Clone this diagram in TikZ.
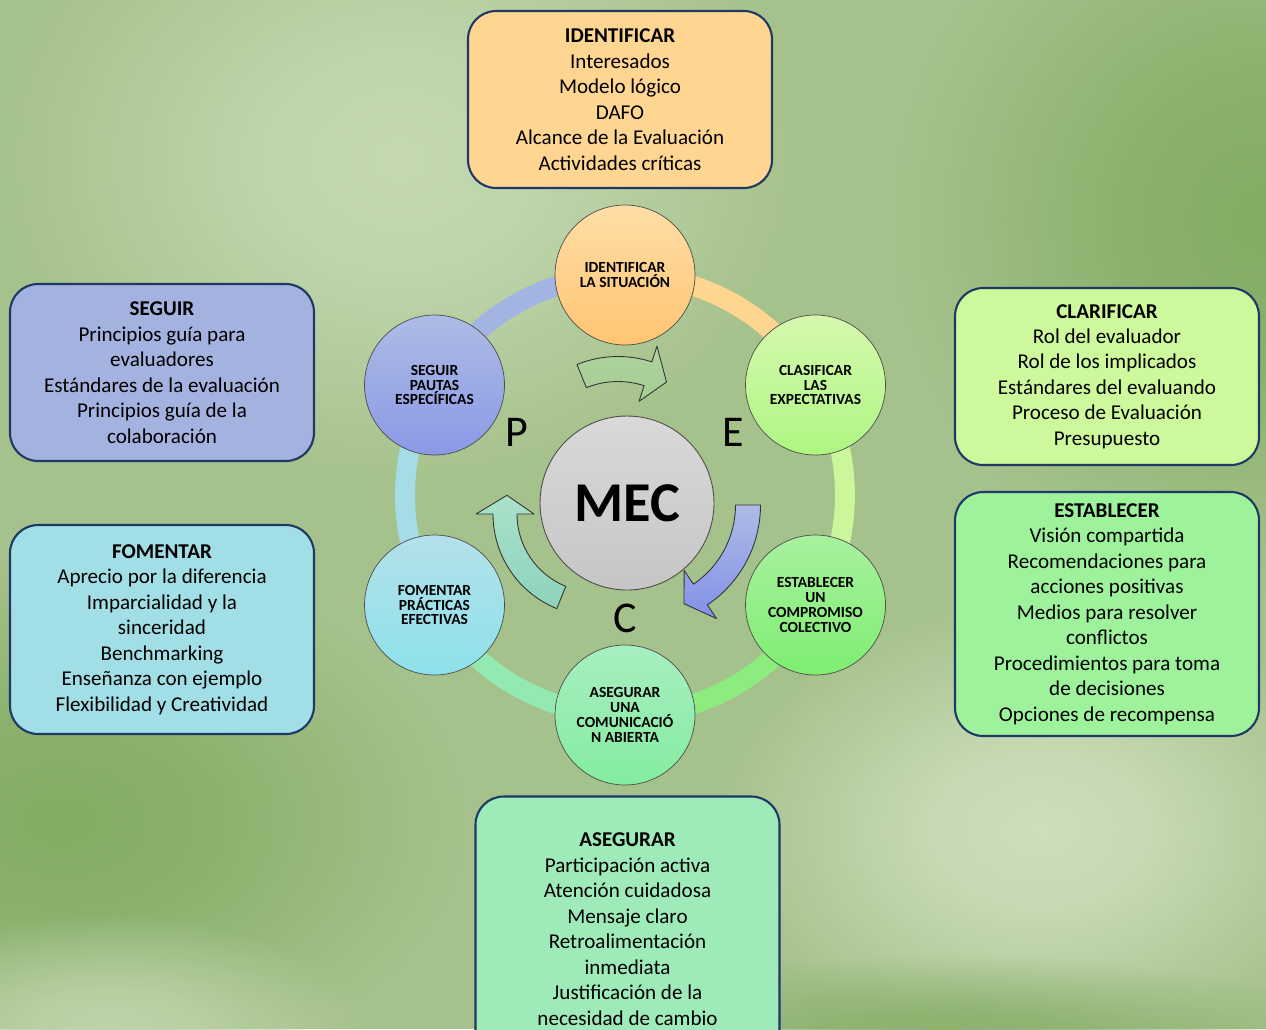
\documentclass[tikz,border=0pt]{standalone}
\usepackage{fontspec}
\setmainfont{Carlito}
\usetikzlibrary{calc,fadings,backgrounds}

\definecolor{bgbase}{HTML}{A6C28C}
\definecolor{bglight}{HTML}{C4D9B2}
\definecolor{bgdark}{HTML}{84AC64}
\definecolor{navyline}{HTML}{203864}
\definecolor{bxorange}{HTML}{FFD592}
\definecolor{bxblue}{HTML}{A4B2E0}
\definecolor{bxlime}{HTML}{CDF89B}
\definecolor{bxgreen}{HTML}{9EF29C}
\definecolor{bxcyan}{HTML}{A2DEE6}
\definecolor{bxmint}{HTML}{9EEAB8}
\definecolor{ringorange}{HTML}{FFD690}
\definecolor{ringlime}{HTML}{CCF69A}
\definecolor{ringgreen}{HTML}{8CEC7E}
\definecolor{ringmint}{HTML}{92EAB2}
\definecolor{ringcyan}{HTML}{A6DCE6}
\definecolor{ringblue}{HTML}{A4B4E2}
\definecolor{arrowgreen}{HTML}{A6CE94}
\definecolor{arrowteal}{HTML}{9CDCC2}

\newcommand{\boxfont}{\fontsize{12}{14.5}\selectfont}
\newcommand{\stagefont}{\fontsize{8.8}{8.5}\selectfont\bfseries}

\pgfdeclareradialshading{blobshade}{\pgfpoint{0bp}{0bp}}{color(0bp)=(white); color(6bp)=(white!80!black); color(17bp)=(black); color(50bp)=(black)}
\begin{tikzfadingfrompicture}[name=softblob]
  \shade[shading=blobshade] (0,0) circle (1cm);
\end{tikzfadingfrompicture}

% #1 style, #2 centre, #3 radius, #4 tail, #5 head base, #6 tip, #7 half width, #8 head half width
\newcommand{\bendarrow}[8]{%
  \pgfmathsetmacro{\rOut}{#3+#7}%
  \pgfmathsetmacro{\rIn}{#3-#7}%
  \pgfmathsetmacro{\rHo}{#3+#8}%
  \pgfmathsetmacro{\rHi}{#3-#8}%
  \path[#1] ($(#2)+(#4:\rOut)$) arc[start angle=#4, end angle=#5, radius=\rOut]
    -- ($(#2)+(#5:\rHo)$) -- ($(#2)+(#6:#3)$) -- ($(#2)+(#5:\rHi)$)
    -- ($(#2)+(#5:\rIn)$) arc[start angle=#5, end angle=#4, radius=\rIn] -- cycle;
}

\begin{document}
\begin{tikzpicture}[x=0.02cm,y=-0.02cm,
    box/.style={draw=navyline, line width=1.2pt, rounded corners=0.56cm, minimum width=6.08cm, inner sep=0pt, align=center, font=\boxfont},
    stage/.style={circle, draw=gray!60!black, line width=0.4pt, minimum size=2.8cm, inner sep=0pt, align=center, font=\stagefont},
    ring/.style={line width=11.3pt},
    pec/.style={font=\fontsize{25}{25}\selectfont},
    bentarrow/.style={draw=gray!40!black, line width=0.5pt, line join=round},
    blob/.style={path fading=softblob}]

\useasboundingbox (0,0) rectangle (1266,1029);

% boxes
\node[box, fill=bxorange, minimum height=3.54cm] (bIdent) at (620,99.5)
  {\textbf{IDENTIFICAR}\\Interesados\\Modelo lógico\\DAFO\\Alcance de la Evaluación\\Actividades críticas};
\node[box, fill=bxblue, minimum height=3.54cm] (bSeguir) at (162,372.5)
  {\textbf{SEGUIR}\\Principios guía para\\evaluadores\\Estándares de la evaluación\\Principios guía de la\\colaboración};
\node[box, fill=bxlime, minimum height=3.54cm] (bClar) at (1107,376.5)
  {\textbf{CLARIFICAR}\\Rol del evaluador\\Rol de los implicados\\Estándares del evaluando\\Proceso de Evaluación\\Presupuesto};
\node[box, fill=bxgreen, minimum height=4.88cm] (bEstab) at (1107,614)
  {\textbf{ESTABLECER}\\Visión compartida\\Recomendaciones para\\acciones positivas\\Medios para resolver\\conflictos\\Procedimientos para toma\\de decisiones\\Opciones de recompensa};
\node[box, fill=bxcyan, minimum height=4.18cm] (bFoment) at (162,629.5)
  {\textbf{FOMENTAR}\\Aprecio por la diferencia\\Imparcialidad y la\\sinceridad\\Benchmarking\\Enseñanza con ejemplo\\Flexibilidad y Creatividad};
\node[box, fill=bxmint, minimum height=5.3cm] (bAseg) at (627.5,929)
  {\textbf{ASEGURAR}\\Participación activa\\Atención cuidadosa\\Mensaje claro\\Retroalimentación\\inmediata\\Justificación de la\\necesidad de cambio};

% stages on the ring
\node[stage, top color=ringorange!80!white, bottom color=ringorange!80!orange] (cIdent) at (625,275) {IDENTIFICAR\\LA SITUACIÓN};
\node[stage, top color=ringlime!80!white, bottom color=ringlime!85!green] (cClas) at (815.5,385) {CLASIFICAR\\LAS\\EXPECTATIVAS};
\node[stage, top color=ringgreen!75!white, bottom color=ringgreen!90!green] (cEstab) at (815.5,605) {ESTABLECER\\UN\\COMPROMISO\\COLECTIVO};
\node[stage, top color=ringmint!80!white, bottom color=ringmint!90!green] (cAseg) at (625,715) {ASEGURAR\\UNA\\COMUNICACIÓ\\N ABIERTA};
\node[stage, top color=ringcyan!85!white, bottom color=ringcyan!85!cyan] (cFoment) at (434.5,605) {FOMENTAR\\PRÁCTICAS\\EFECTIVAS};
\node[stage, top color=ringblue!90!white, bottom color=ringblue!85!blue] (cSeguir) at (434.5,385) {SEGUIR\\PAUTAS\\ESPECÍFICAS};

\node[circle, draw=gray!60!black, line width=0.5pt, minimum size=3.48cm, top color=gray!30, bottom color=gray!45,
  font=\fontsize{32}{32}\selectfont\bfseries] (mec) at (627,503) {MEC};

\node[pec] (lP) at (517,432) {P};
\node[pec] (lE) at (733,432) {E};
\node[pec] (lC) at (625,618) {C};

% curved arrows round MEC
\coordinate (aTop) at (618,466);
\coordinate (aRight) at (640,505);
\coordinate (aLeft) at (595,514);
\bendarrow{bentarrow, top color=arrowgreen!90!white, bottom color=arrowgreen}{aTop}{97}{-112}{-72}{-60}{12.5}{29}
\bendarrow{bentarrow, top color=ringblue!90!white, bottom color=ringblue!80!blue}{aRight}{108}{0}{56}{66}{12.5}{29}
\bendarrow{bentarrow, top color=arrowteal!85!white, bottom color=arrowteal!90!teal}{aLeft}{90}{-248}{-180}{-168}{12}{29}

\begin{scope}[on background layer]
  \fill[bgbase] (0,0) rectangle (1266,1029);
  \fill[bglight, blob] (400,160) ellipse [x radius=520, y radius=420];
  \fill[bgdark, blob] (1266,220) ellipse [x radius=480, y radius=480];
  \fill[bgdark, blob] (60,820) ellipse [x radius=520, y radius=340];
  \fill[bglight!80!bgbase, blob] (110,1029) ellipse [x radius=330, y radius=150];
  \fill[bglight!85!white, blob] (1040,830) ellipse [x radius=420, y radius=300];
  \fill[bgdark!80!bgbase, blob] (950,1040) ellipse [x radius=520, y radius=110];
  \draw[ring, draw=ringorange] (cIdent.center) arc[start angle=-90, end angle=-30, radius=220];
  \draw[ring, draw=ringlime] (cClas.center) arc[start angle=-30, end angle=30, radius=220];
  \draw[ring, draw=ringgreen] (cEstab.center) arc[start angle=30, end angle=90, radius=220];
  \draw[ring, draw=ringmint] (cAseg.center) arc[start angle=90, end angle=150, radius=220];
  \draw[ring, draw=ringcyan] (cFoment.center) arc[start angle=150, end angle=210, radius=220];
  \draw[ring, draw=ringblue] (cSeguir.center) arc[start angle=210, end angle=270, radius=220];
\end{scope}

\end{tikzpicture}
\end{document}
